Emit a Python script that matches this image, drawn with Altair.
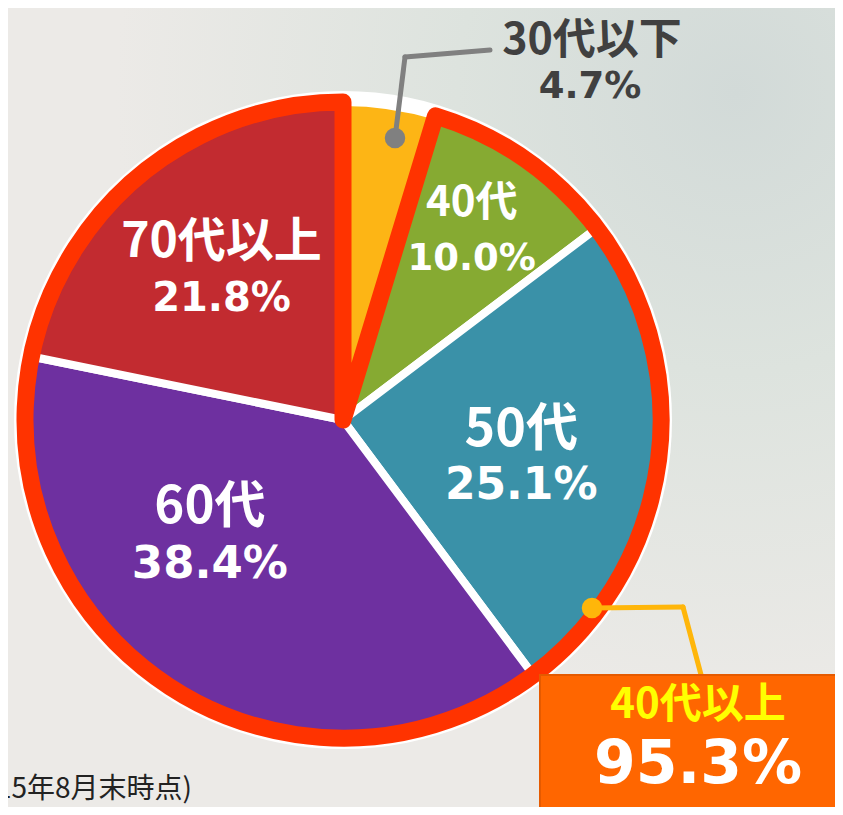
import math
import altair as alt
import pandas as pd

# ---------------- data ----------------
categories = ["30代以下", "40代", "50代", "60代", "70代以上"]
shares = [4.7, 10.0, 25.1, 38.4, 21.8]
share_labels = ["4.7%", "10.0%", "25.1%", "38.4%", "21.8%"]
slice_colors = ["#FDB515", "#86AA32", "#3A91A8", "#6E30A0", "#C22B30"]
group_label = "40代以上"
group_share = "95.3%"
note_text = "(2015年8月末時点)"

ends = list(pd.Series(shares).cumsum().round(4))
starts = [0.0] + ends[:-1]
df = pd.DataFrame({
    "cat": categories,
    "share": shares,
    "label": share_labels,
    "start": starts,
    "end": ends,
    "mid": [(s + e) / 2 for s, e in zip(starts, ends)],
})

# ---------------- layout / style ----------------
W, H = 827, 799
CX, CY = 335, 412
R = 318
JP = "Noto Sans CJK JP"
NUM = "DejaVu Sans"
theta_scale = alt.Scale(domain=[0, 100], range=[0, 2 * math.pi])

base = alt.Chart(df)
one = alt.Data(values=[{"k": 1}])

bg = alt.Chart(one).mark_rect(
    fill=alt.RadialGradient(
        gradient="radial",
        x1=0.88, y1=0.12, r1=0.0,
        x2=0.88, y2=0.12, r2=0.75,
        stops=[
            alt.GradientStop(color="#D2DAD8", offset=0.0),
            alt.GradientStop(color="#DDE3DE", offset=0.45),
            alt.GradientStop(color="#ECEAE7", offset=1.0),
        ],
    )
).encode(x=alt.value(0), x2=alt.value(W), y=alt.value(0), y2=alt.value(H))

disc = base.transform_aggregate(s="min(start)", e="max(end)").mark_arc(
    radius=R + 11, color="white"
).encode(
    theta=alt.Theta("s:Q", scale=theta_scale), theta2="e:Q",
    x=alt.value(CX), y=alt.value(CY),
)

slices = base.mark_arc(radius=R, stroke="white", strokeWidth=8, strokeJoin="round").encode(
    theta=alt.Theta("start:Q", scale=theta_scale),
    theta2="end:Q",
    color=alt.Color("cat:N", scale=alt.Scale(domain=categories, range=slice_colors), legend=None),
    x=alt.value(CX), y=alt.value(CY),
)

outline = base.transform_filter(alt.datum.cat != categories[0]).transform_aggregate(
    s="min(start)", e="max(end)"
).mark_arc(
    radius=R, filled=False, stroke="#FF3300", strokeWidth=17, strokeJoin="round"
).encode(
    theta=alt.Theta("s:Q", scale=theta_scale), theta2="e:Q",
    x=alt.value(CX), y=alt.value(CY),
)

inner_layout = {
    "40代": dict(r=230, dx=-3, dy=0, s1=42, s2=37),
    "50代": dict(r=180, dx=0, dy=13, s1=52, s2=44),
    "60代": dict(r=170, dx=-42, dy=-28, s1=51, s2=45),
    "70代以上": dict(r=192, dx=0, dy=0, s1=48, s2=40),
}

labels = []
for cat, L in inner_layout.items():
    sub = base.transform_filter(alt.datum.cat == cat)
    enc = dict(theta=alt.Theta("mid:Q", scale=theta_scale), x=alt.value(CX), y=alt.value(CY))
    labels.append(sub.mark_text(
        radius=L["r"], dx=L["dx"], dy=L["dy"] - 28, font=JP, fontWeight="bold",
        fontSize=L["s1"], color="white", baseline="middle", align="center",
    ).encode(text="cat:N", **enc))
    labels.append(sub.mark_text(
        radius=L["r"], dx=L["dx"], dy=L["dy"] + 28, font=NUM, fontWeight="bold",
        fontSize=L["s2"], color="white", baseline="middle", align="center",
    ).encode(text="label:N", **enc))

# outside label for the smallest slice
small = base.transform_filter(alt.datum.cat == categories[0])
small_l1 = small.mark_text(font=JP, fontWeight="bold", fontSize=43, color="#404040",
                           baseline="middle", align="center").encode(
    text="cat:N", x=alt.value(584), y=alt.value(33))
small_l2 = small.mark_text(font=NUM, fontWeight="bold", fontSize=37, color="#404040",
                           baseline="middle", align="center").encode(
    text="label:N", x=alt.value(582), y=alt.value(79))
lead_gray1 = alt.Chart(one).mark_rule(color="#808080", strokeWidth=5, strokeCap="round").encode(
    x=alt.value(387), y=alt.value(130), x2=alt.value(397), y2=alt.value(49))
lead_gray2 = alt.Chart(one).mark_rule(color="#808080", strokeWidth=5, strokeCap="round").encode(
    x=alt.value(397), y=alt.value(49), x2=alt.value(482), y2=alt.value(42))
dot_gray = alt.Chart(one).mark_point(filled=True, opacity=1, color="#808080", size=420).encode(
    x=alt.value(387), y=alt.value(130))

# group callout
box = alt.Chart(one).mark_rect(color="#FF6600", stroke="#E55A00", strokeWidth=2).encode(
    x=alt.value(532), x2=alt.value(W + 5), y=alt.value(667), y2=alt.value(H + 5))
lead_y1 = alt.Chart(one).mark_rule(color="#FFB60A", strokeWidth=5, strokeCap="round").encode(
    x=alt.value(584), y=alt.value(600), x2=alt.value(675), y2=alt.value(599))
lead_y2 = alt.Chart(one).mark_rule(color="#FFB60A", strokeWidth=5, strokeCap="round").encode(
    x=alt.value(675), y=alt.value(599), x2=alt.value(696), y2=alt.value(678))
dot_y = alt.Chart(one).mark_point(filled=True, opacity=1, color="#FFB60A", size=420).encode(
    x=alt.value(584), y=alt.value(600))
grp_t1 = alt.Chart(one).mark_text(text=group_label, font=JP, fontWeight="bold", fontSize=42,
                                  color="#FFFF00", baseline="middle", align="center").encode(
    x=alt.value(690), y=alt.value(697))
grp_t2 = alt.Chart(one).mark_text(text=group_share, font=NUM, fontWeight="bold", fontSize=60,
                                  color="white", baseline="middle", align="center").encode(
    x=alt.value(690), y=alt.value(757))

note = alt.Chart(one).mark_text(text=note_text, font=JP, fontSize=28, color="#222222",
                                baseline="middle", align="right").encode(
    x=alt.value(184), y=alt.value(782))

chart = alt.layer(
    bg, disc, slices, outline, *labels, small_l1, small_l2,
    lead_gray1, lead_gray2, dot_gray, lead_y1, lead_y2, box, dot_y, grp_t1, grp_t2, note,
).properties(
    width=W, height=H, autosize=alt.AutoSizeParams(type="none"), padding=0,
).configure_view(stroke=None)

chart.save("out.html", embed_options={"renderer": "svg", "actions": False})
